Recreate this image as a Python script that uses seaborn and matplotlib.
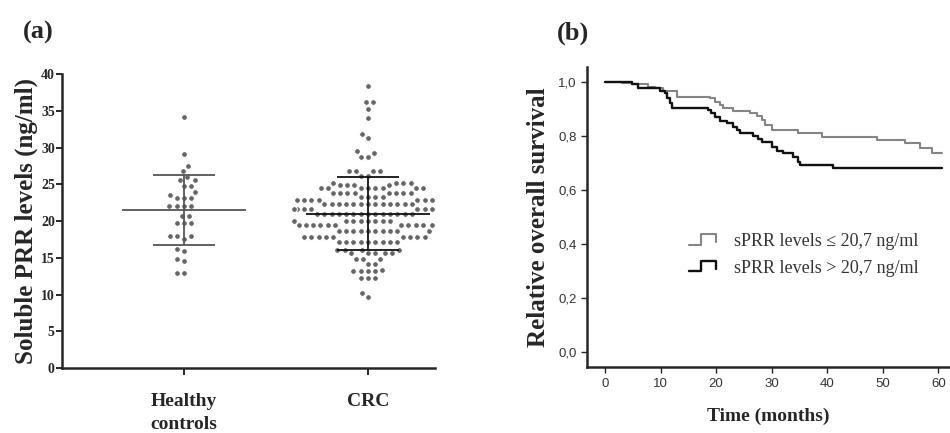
#!/usr/bin/env python3
"""sPRR: dot plot by group (a) and Kaplan-Meier survival by sPRR level (b)."""

import matplotlib
matplotlib.use("Agg")
import matplotlib.pyplot as plt
import numpy as np
import pandas as pd
import seaborn as sns
from matplotlib.legend_handler import HandlerBase
from matplotlib.lines import Line2D

SERIF = ["Liberation Serif", "DejaVu Serif"]
SANS = ["Liberation Sans", "DejaVu Sans"]

# ---- panel (a): soluble PRR levels (ng/ml) ----
GROUPS = ["Healthy\ncontrols", "CRC"]
HEALTHY = [34.2, 29.1, 27.5, 26.8, 26.0, 25.6, 25.6, 24.8, 24.8, 24.0, 23.6,
           23.2, 23.2, 23.2, 22.0, 22.0, 22.0, 22.0, 20.7, 20.7, 19.8, 19.8,
           19.8, 17.9, 17.9, 17.9, 17.6, 16.2, 15.9, 14.8, 14.5, 12.9, 12.9]
# CRC dots sit in rows: level and number of dots in that row
CRC_LEVELS = [38.4, 36.2, 35.3, 34.0, 31.8, 31.3, 29.5, 29.2, 28.7, 26.8,
              26.1, 25.2, 24.9, 24.5, 23.8, 23.3, 22.9, 22.3, 21.6, 21.0,
              20.0, 19.4, 18.6, 17.8, 17.2, 16.1, 15.6, 14.9, 14.2, 13.4,
              13.2, 12.2, 10.2, 9.6]
CRC_COUNTS = [1, 2, 1, 1, 1, 1, 1, 1, 2, 4,
              2, 4, 4, 8, 8, 4, 7, 13, 8, 14,
              13, 11, 10, 9, 9, 4, 5, 3, 2, 1,
              4, 3, 1, 1]
GROUP_MEAN = [21.5, 21.0]
GROUP_SD = [4.8, 5.0]
SUMMARY_COLORS = ["#555555", "#111111"]

# ---- panel (b): relative overall survival ----
LOW_T = [0, 3.0, 4.8, 7.8, 9.0, 10.5, 12.9, 18.9, 19.8, 20.7, 21.3, 23.1,
         26.1, 27.3, 28.2, 28.8, 30.0, 34.8, 39.0, 48.9, 54.0, 56.7, 58.8, 60.6]
LOW_S = [1.0, 0.994, 0.99, 0.981, 0.975, 0.965, 0.945, 0.938, 0.926, 0.914,
         0.901, 0.893, 0.883, 0.873, 0.858, 0.84, 0.821, 0.811, 0.796, 0.784,
         0.772, 0.753, 0.737, 0.737]
HIGH_T = [0, 4.8, 6.0, 9.9, 10.8, 11.2, 11.7, 12.0, 18.5, 19.1, 19.7, 20.7,
          21.9, 23.1, 23.7, 24.3, 26.7, 27.6, 28.2, 30.0, 30.9, 32.1, 33.9,
          34.8, 35.1, 41.1, 60.6]
HIGH_S = [1.0, 0.99, 0.975, 0.967, 0.957, 0.938, 0.922, 0.904, 0.895, 0.883,
          0.868, 0.856, 0.846, 0.833, 0.821, 0.809, 0.799, 0.787, 0.778, 0.759,
          0.744, 0.737, 0.722, 0.704, 0.691, 0.681, 0.681]
SERIES = ["sPRR levels \u2264 20,7 ng/ml", "sPRR levels > 20,7 ng/ml"]
SERIES_COLORS = ["#858585", "#111111"]
Y_TICKS = [0.0, 0.2, 0.4, 0.6, 0.8, 1.0]
Y_TICK_LABELS = ["0,0", "0,2", "0,4", "0,6", "0,8", "1,0"]
X_TICKS = [0, 10, 20, 30, 40, 50, 60]


class StepHandler(HandlerBase):
    """Small step-shaped legend key, like the survival curves."""

    def create_artists(self, legend, orig_handle, xdescent, ydescent,
                       width, height, fontsize, trans):
        xs = np.array([0.0, 0.45, 0.45, 1.0, 1.0]) * width - xdescent
        ys = np.array([0.15, 0.15, 0.95, 0.95, 0.35]) * height - ydescent
        line = Line2D(xs, ys, color=orig_handle.get_color(),
                      lw=orig_handle.get_linewidth())
        line.set_transform(trans)
        return [line]


def panel_a(ax):
    crc = np.repeat(CRC_LEVELS, CRC_COUNTS)
    df = pd.DataFrame({
        "grupo": [GROUPS[0]] * len(HEALTHY) + [GROUPS[1]] * len(crc),
        "valor": list(HEALTHY) + list(crc),
    })
    # white edge keeps the dots apart the way the original rows are spaced
    sns.swarmplot(data=df, x="grupo", y="valor", order=GROUPS, color="#666666",
                  size=4.2, edgecolor="white", linewidth=0.8, ax=ax)

    for i, (m, sd, c) in enumerate(zip(GROUP_MEAN, GROUP_SD, SUMMARY_COLORS)):
        ax.hlines(m, i - 0.335, i + 0.335, color=c, lw=1.3, zorder=5)
        ax.hlines([m - sd, m + sd], i - 0.167, i + 0.167, color=c, lw=1.3, zorder=5)
        ax.vlines(i, m - sd, m + sd, color=c, lw=1.3, zorder=5)

    ax.set_xlim(-0.663, 1.364)
    ax.set_ylim(0, 40)
    ax.set_yticks(range(0, 41, 5))
    ax.set_xlabel("")
    ax.set_ylabel("Soluble PRR levels (ng/ml)", family=SERIF, fontsize=18,
                  fontweight="bold", labelpad=2)
    sns.despine(ax=ax)
    for s in ("left", "bottom"):
        ax.spines[s].set_linewidth(1.8)
    ax.tick_params(axis="y", length=4, width=1.4, pad=1, labelsize=10)
    ax.tick_params(axis="x", length=5, width=1.4, pad=13, labelsize=14)
    for lab in ax.get_yticklabels():
        lab.set_family(SERIF)
        lab.set_fontweight("bold")
    for lab in ax.get_xticklabels():
        lab.set_family(SERIF)
        lab.set_fontweight("bold")
        lab.set_linespacing(1.45)


def panel_b(ax):
    for t, s, lab, c, lw in zip([LOW_T, HIGH_T], [LOW_S, HIGH_S], SERIES,
                                SERIES_COLORS, [1.5, 1.7]):
        sns.lineplot(x=t, y=s, drawstyle="steps-post", color=c, lw=lw,
                     label=lab, estimator=None, ax=ax)

    ax.set_xlim(-3.24, 62.1)
    ax.set_ylim(-0.057, 1.054)
    ax.set_yticks(Y_TICKS)
    ax.set_yticklabels(Y_TICK_LABELS)
    ax.set_xticks(X_TICKS)
    ax.set_xlabel("Time (months)", family=SERIF, fontsize=14,
                  fontweight="bold", labelpad=13)
    ax.set_ylabel("Relative overall survival", family=SERIF, fontsize=18,
                  fontweight="bold", labelpad=6)
    sns.despine(ax=ax)
    for s in ("left", "bottom"):
        ax.spines[s].set_linewidth(1.8)
    ax.tick_params(length=4, width=1.0, labelsize=9.5, labelcolor="#333333")
    for lab in ax.get_xticklabels() + ax.get_yticklabels():
        lab.set_family(SANS)

    handles, labels = ax.get_legend_handles_labels()
    leg = ax.legend(handles, labels, loc="upper left",
                    bbox_to_anchor=(0.235, 0.50), frameon=False,
                    handler_map={Line2D: StepHandler()}, handlelength=1.5,
                    handletextpad=1.0, labelspacing=0.55,
                    prop={"family": SERIF, "size": 13})
    for txt in leg.get_texts():
        txt.set_color("#333333")


def main():
    sns.set_style("ticks")
    plt.rcParams["font.family"] = SERIF

    fig = plt.figure(figsize=(9.5, 4.33), dpi=100)
    ax_a = fig.add_axes([0.065, 0.150, 0.393, 0.679])
    ax_b = fig.add_axes([0.618, 0.152, 0.382, 0.693])

    panel_a(ax_a)
    panel_b(ax_b)

    fig.text(0.040, 0.924, "(a)", family=SERIF, fontsize=19, fontweight="bold",
             ha="center", va="center")
    fig.text(0.603, 0.924, "(b)", family=SERIF, fontsize=19, fontweight="bold",
             ha="center", va="center")

    fig.savefig("out.png", dpi=100)
    plt.close(fig)


if __name__ == "__main__":
    main()
